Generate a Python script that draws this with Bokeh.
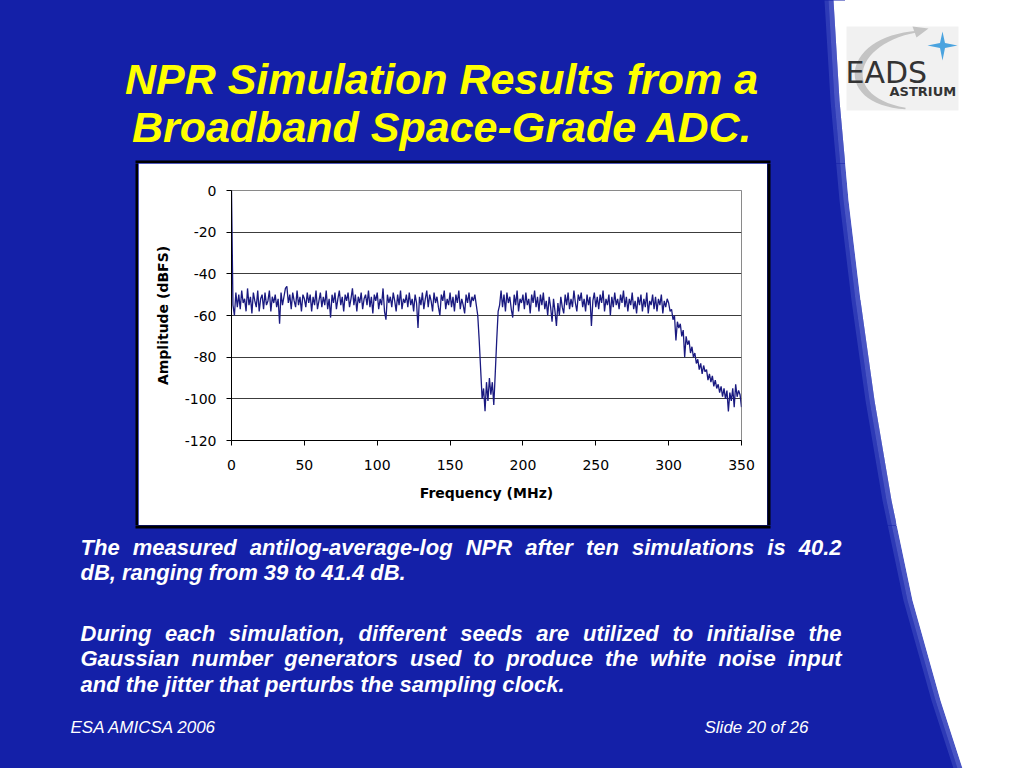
import math
from bokeh.plotting import figure
from bokeh.models import Range1d, FixedTicker, GlobalInlineStyleSheet
from bokeh.layouts import column, row
from bokeh.embed import file_html
from bokeh.resources import INLINE
from bokeh.core.properties import value

# ---------------- data ----------------
freq_mhz = list(range(0, 351))
amplitude_dbfs = [
    0, -55, -60, -49, -56, -50, -57, -48, -54, -52,
    -58, -47, -55, -51, -59, -49, -53, -56, -48, -58,
    -52, -50, -57, -49, -55, -53, -48, -58, -51, -54,
    -50, -56, -52, -64, -49, -55, -51, -47, -46, -54,
    -50, -57, -49, -53, -56, -48, -55, -51, -58, -50,
    -52, -56, -49, -54, -50, -58, -51, -55, -48, -57,
    -53, -49, -56, -51, -55, -48, -57, -52, -61, -50,
    -54, -49, -57, -52, -48, -55, -51, -58, -50, -53,
    -49, -56, -52, -47, -55, -50, -58, -51, -54, -49,
    -57, -52, -50, -55, -48, -56, -51, -59, -50, -53,
    -49, -57, -52, -55, -47, -58, -62, -50, -54, -51,
    -56, -49, -53, -58, -50, -55, -48, -57, -52, -54,
    -50, -56, -49, -55, -52, -58, -50, -54, -66, -51,
    -55, -49, -57, -52, -48, -56, -50, -53, -58, -49,
    -54, -51, -56, -60, -50, -53, -48, -57, -52, -55,
    -49, -56, -51, -58, -50, -54, -48, -57, -52, -55,
    -59, -50, -54, -49, -56, -51, -53, -50, -55, -60,
    -72, -86, -100, -95, -106, -92, -101, -90, -98, -92,
    -103, -88, -72, -58, -55, -48, -56, -50, -58, -49,
    -54, -51, -57, -61, -50, -55, -48, -58, -52, -54,
    -50, -57, -49, -55, -52, -59, -50, -54, -48, -56,
    -51, -58, -50, -55, -49, -57, -53, -60, -51, -56,
    -63, -52, -58, -65, -54, -60, -51, -56, -59, -50,
    -55, -49, -57, -52, -56, -48, -54, -58, -50, -53,
    -49, -56, -52, -58, -50, -55, -51, -65, -53, -49,
    -56, -51, -57, -50, -54, -48, -58, -52, -55, -50,
    -60, -51, -56, -49, -55, -52, -57, -50, -54, -48,
    -56, -51, -58, -52, -55, -49, -57, -53, -59, -51,
    -55, -50, -58, -52, -56, -49, -59, -53, -55, -50,
    -57, -51, -58, -52, -55, -50, -59, -53, -56, -52,
    -54, -58, -57, -62, -60, -72, -63, -66, -64, -70,
    -67, -80, -70, -74, -72, -78, -75, -80, -78, -83,
    -81, -86, -83, -88, -84, -87, -86, -91, -88, -92,
    -89, -94, -91, -95, -93, -97, -94, -99, -95, -100,
    -96, -106, -97, -101, -95, -104, -93, -99, -96, -98,
    -104,
]
x_ticks = [0, 50, 100, 150, 200, 250, 300, 350]
y_ticks = [0, -20, -40, -60, -80, -100, -120]
x_label = "Frequency (MHz)"
y_label = "Amplitude (dBFS)"

title_lines = ["NPR Simulation Results from a", "Broadband Space-Grade ADC."]
para1 = ["The measured antilog-average-log NPR after ten simulations is 40.2",
         "dB, ranging from 39 to 41.4 dB."]
para2 = ["During each simulation, different seeds are utilized to initialise the",
         "Gaussian number generators used to produce the white noise input",
         "and the jitter that perturbs the sampling clock."]
footer_left = "ESA AMICSA 2006"
footer_right = "Slide 20 of 26"
logo_big = "EADS"
logo_small = "ASTRIUM"

# ---------------- styling ----------------
BLUE = "#1420a8"
FONT = "Liberation Sans"
AXFONT = "DejaVu Sans"

# Arial Bold advance widths (per 1000 em), used to justify body lines
W_BOLD = {" ": 278, "a": 556, "b": 611, "c": 556, "d": 611, "e": 556, "f": 333, "g": 611,
          "h": 611, "i": 278, "j": 278, "k": 556, "l": 278, "m": 889, "n": 611, "o": 611,
          "p": 611, "q": 611, "r": 389, "s": 556, "t": 333, "u": 611, "v": 556, "w": 778,
          "x": 556, "y": 556, "z": 500, "A": 722, "B": 722, "C": 722, "D": 722, "E": 667,
          "F": 611, "G": 778, "H": 722, "I": 278, "N": 722, "P": 667, "R": 722, "S": 667,
          "T": 611, ".": 278, ",": 278, "-": 333}


def text_width(s, size):
    return sum(W_BOLD.get(c, 556) for c in s) / 1000.0 * size


# boundary of the white curved area at the right of the slide
bx = [832, 833, 839, 848, 860, 874, 891, 912, 940, 962, 966]
by = [-10, 0, 100, 200, 300, 400, 500, 600, 700, 768, 780]


def strip(x0, x1, y0, y1):
    f = figure(width=x1 - x0, height=y1 - y0, x_range=Range1d(x0, x1), y_range=Range1d(y1, y0),
               output_backend="svg", toolbar_location=None, tools="",
               x_axis_type=None, y_axis_type=None, min_border=0,
               background_fill_color=None, border_fill_color=None, outline_line_color=None)
    f.patch(bx + [-20, -20], by + [780, -10], fill_color=BLUE, line_color=None)
    f.patch(bx + [1100, 1100], by + [780, -10], fill_color="white", line_color=None)
    for s_out, s_in, a in [(9, 5, 0.22), (5, 0, 0.45)]:
        xs = [v - s_out for v in bx] + [v - s_in for v in reversed(bx)]
        ys = by + list(reversed(by))
        f.patch(xs, ys, fill_color="#8a96e6", fill_alpha=a, line_color=None)
    # black frame of the chart panel
    f.quad(left=[135], right=[770], top=[160], bottom=[528], fill_color="black", line_color=None)
    return f


def text(f, x, y, s, size, style, color, align="left", baseline="middle", font=FONT):
    f.text(x=[x], y=[y], text=[s], text_font=value(font), text_font_size=f"{size}px",
           text_font_style=style, text_color=color, text_align=align, text_baseline=baseline)


def body_line(f, line, y, x0, x1, size, justify):
    words = line.split(" ")
    widths = [text_width(w, size) for w in words]
    if justify and len(words) > 1:
        gap = (x1 - x0 - sum(widths)) / (len(words) - 1)
    else:
        gap = text_width(" ", size)
    xs = []
    x = x0
    for wd in widths:
        xs.append(x)
        x += wd + gap
    f.text(x=xs, y=[y] * len(words), text=words, text_font=value(FONT),
           text_font_size=f"{size}px", text_font_style="bold italic", text_color="white",
           text_baseline="middle", text_align="left")


# ---------------- top strip: title + logo ----------------
top = strip(0, 1024, 0, 163)
text(top, 441, 78, title_lines[0], 43, "bold italic", "#ffff00", align="center")
text(top, 442, 126, title_lines[1], 43, "bold italic", "#ffff00", align="center")
top.quad(left=[846], right=[958], top=[26], bottom=[110], fill_color="#f1f1f1", line_color=None)
P0, C0, C1, P1 = (905, 108), (836, 100), (846, 40), (917, 31)
ls, rs = [], []
N = 30
for i in range(N + 1):
    t = i / N
    qx = ((1 - t) ** 3 * P0[0] + 3 * (1 - t) ** 2 * t * C0[0]
          + 3 * (1 - t) * t ** 2 * C1[0] + t ** 3 * P1[0])
    qy = ((1 - t) ** 3 * P0[1] + 3 * (1 - t) ** 2 * t * C0[1]
          + 3 * (1 - t) * t ** 2 * C1[1] + t ** 3 * P1[1])
    dx = (3 * (1 - t) ** 2 * (C0[0] - P0[0]) + 6 * (1 - t) * t * (C1[0] - C0[0])
          + 3 * t ** 2 * (P1[0] - C1[0]))
    dy = (3 * (1 - t) ** 2 * (C0[1] - P0[1]) + 6 * (1 - t) * t * (C1[1] - C0[1])
          + 3 * t ** 2 * (P1[1] - C1[1]))
    n = math.hypot(dx, dy) or 1.0
    half = 0.8 + 3.2 * math.sin(math.pi * t)
    ls.append((qx - dy / n * half, qy + dx / n * half))
    rs.append((qx + dy / n * half, qy - dx / n * half))
pts = ls + list(reversed(rs))
top.patch([q[0] for q in pts], [q[1] for q in pts], fill_color="#c4c4c4", line_color=None)
top.patch([928, 912, 916], [28, 26, 37], fill_color="#c4c4c4", line_color=None)
top.patch([942, 944.5, 957, 944.5, 942, 939.5, 927, 939.5],
          [31, 42.5, 45, 47.5, 60, 47.5, 45, 42.5], fill_color="#4aa3df", line_color=None)
text(top, 845, 72, logo_big, 30, "normal", "#333333", font=AXFONT)
text(top, 889, 91, logo_small, 13, "bold", "#333333", font=AXFONT)

# ---------------- side strips ----------------
left = strip(0, 138, 163, 525)
right = strip(767, 1024, 163, 525)

# ---------------- chart ----------------
chart = figure(width=629, height=362, x_range=Range1d(0, 350), y_range=Range1d(-120, 0),
               output_backend="svg", toolbar_location=None, tools="",
               min_border_left=93, min_border_right=26, min_border_top=27, min_border_bottom=85,
               background_fill_color="white", border_fill_color="white",
               outline_line_color="#8a8a8a", outline_line_width=1)
chart.line(freq_mhz, amplitude_dbfs, line_color="#1a1a80", line_width=1.3)
chart.xgrid.visible = False
chart.ygrid.ticker = FixedTicker(ticks=y_ticks)
chart.ygrid.grid_line_color = "#3c3c3c"
chart.ygrid.grid_line_width = 1
for ax, ticks in ((chart.xaxis[0], x_ticks), (chart.yaxis[0], y_ticks)):
    ax.ticker = FixedTicker(ticks=ticks)
    ax.major_label_overrides = {t: str(t) for t in ticks}
    ax.major_tick_in = 0
    ax.major_tick_out = 5
    ax.minor_tick_line_color = None
    ax.axis_line_color = "black"
    ax.major_tick_line_color = "black"
    ax.major_label_text_font = AXFONT
    ax.major_label_text_font_size = "14px"
    ax.major_label_text_color = "black"
    ax.axis_label_text_font = AXFONT
    ax.axis_label_text_font_size = "14px"
    ax.axis_label_text_font_style = "bold"
    ax.axis_label_text_color = "black"
chart.xaxis.axis_label = x_label
chart.yaxis.axis_label = y_label
chart.xaxis.major_label_standoff = 14
chart.xaxis.axis_label_standoff = 12
chart.yaxis.major_label_standoff = 10
chart.yaxis.axis_label_standoff = 11

# ---------------- bottom strip: body text + footer ----------------
bottom = strip(0, 1024, 525, 768)
body_line(bottom, para1[0], 547, 80, 841, 22, True)
body_line(bottom, para1[1], 572, 80, 841, 22, False)
body_line(bottom, para2[0], 633, 80, 841, 22, True)
body_line(bottom, para2[1], 658, 80, 841, 22, True)
body_line(bottom, para2[2], 684, 80, 841, 22, False)
bottom.text(x=[70, 704], y=[727, 727], text=[footer_left, footer_right], text_font=value(FONT),
            text_font_size="17px", text_font_style="italic", text_color="white",
            text_baseline="middle", text_align="left")

# side strips wrapped in their own columns so the row does not align their frames
layout = column(top, row(column(left), chart, column(right)), bottom)
layout.stylesheets = [GlobalInlineStyleSheet(css=(
    "html{background:"
    "linear-gradient(90deg,#1420a8 845px,#ffffff 845px) 0 0/100% 300px no-repeat,"
    "linear-gradient(90deg,#1420a8 896px,#ffffff 896px) 0 300px/100% 468px no-repeat;}"))]

open("out.html", "w").write(file_html(layout, INLINE))
